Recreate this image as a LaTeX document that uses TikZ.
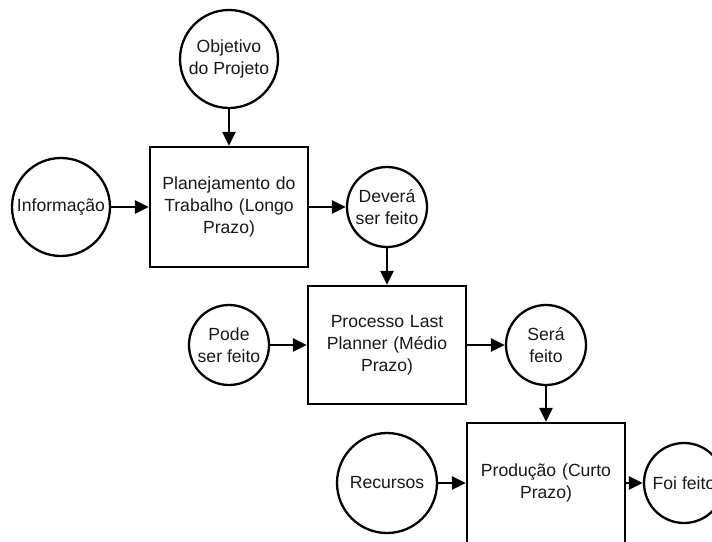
\documentclass[tikz,border=0pt]{standalone}
\usepackage{fontspec}
\setmainfont{Liberation Sans}
\usetikzlibrary{arrows.meta}
\begin{document}
\begin{tikzpicture}[x=1pt,y=-1pt,
  every node/.style={font=\fontsize{17.6}{22}\selectfont, align=center, text=black!90},
  circ/.style={draw, circle, line width=2.3pt, inner sep=0pt, minimum size=#1},
  box/.style={draw, rectangle, line width=2.3pt, inner sep=2pt, minimum width=158pt, minimum height=120pt, text width=145pt},
  arr/.style={line width=2.3pt, -{Triangle[length=14pt,width=13pt]}}
]
\clip (0,0) rectangle (712,541);
\fill[white] (0,0) rectangle (712,541);
\node[circ=98pt] (obj) at (229,59) {Objetivo\\do Projeto};
\node[circ=98pt] (inf) at (61,207) {Informação};
\node[box] (r1) at (229,207) {Planejamento do\\Trabalho (Longo\\Prazo)};
\node[circ=80pt] (dev) at (387,207) {Deverá\\ser feito};
\node[circ=80pt] (pode) at (229,345) {Pode\\ser feito};
\node[box, minimum height=118pt] (r2) at (387,345) {Processo Last\\Planner (Médio\\Prazo)};
\node[circ=80pt] (sera) at (546,345) {Será\\feito};
\node[circ=100pt] (rec) at (387,483) {Recursos};
\node[box] (r3) at (546,483) {Produção (Curto\\Prazo)};
\node[circ=80pt] (foi) at (684,483) {Foi feito};
\draw[arr] (obj) -- (r1);
\draw[arr] (inf) -- (r1);
\draw[arr] (r1) -- (dev);
\draw[arr] (dev) -- (r2);
\draw[arr] (pode) -- (r2);
\draw[arr] (r2) -- (sera);
\draw[arr] (sera) -- (r3);
\draw[arr] (rec) -- (r3);
\draw[arr] (r3) -- (foi);
\end{tikzpicture}
\end{document}
